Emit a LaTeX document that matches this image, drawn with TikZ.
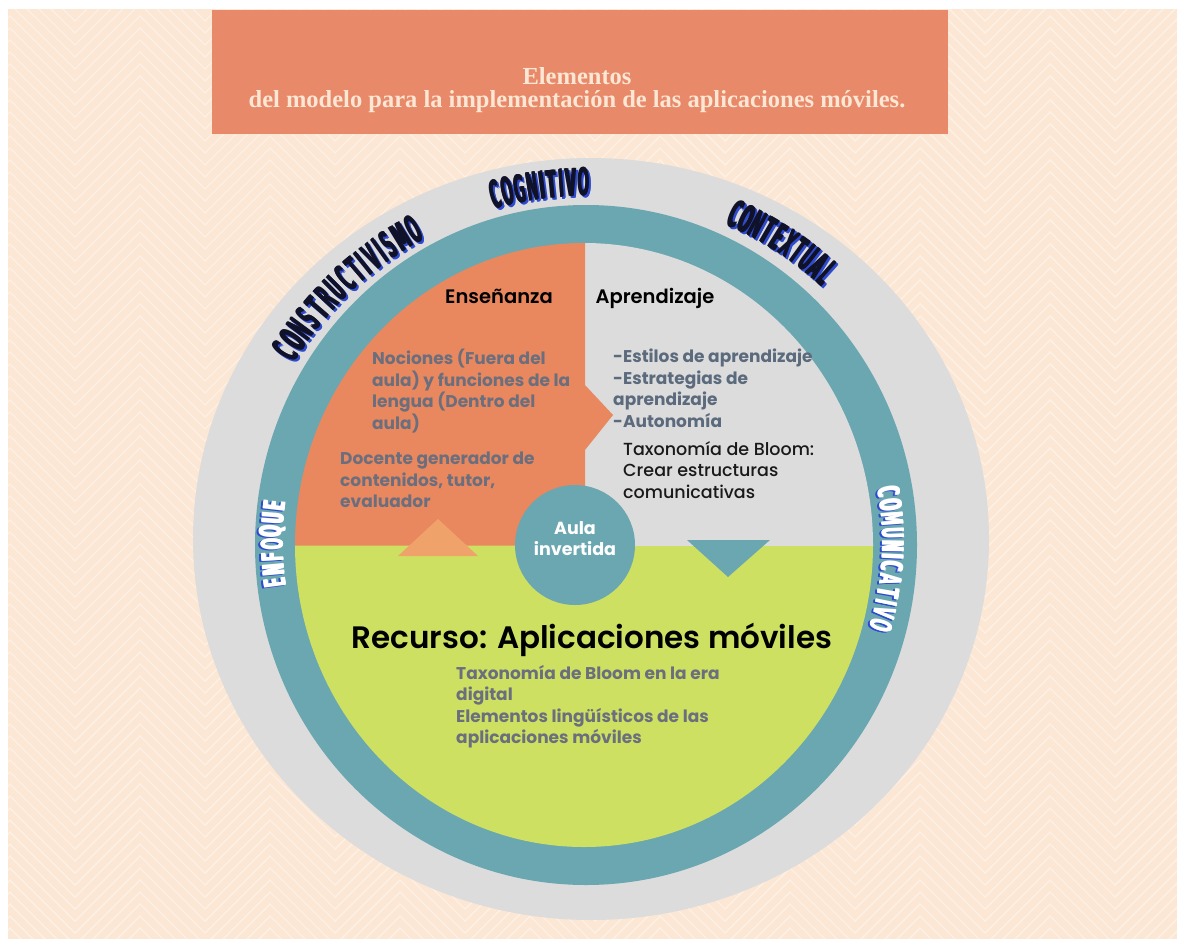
\documentclass[tikz,border=0pt]{standalone}
\usepackage{fontspec}
\usepackage{graphicx}
\setmainfont{Liberation Serif}
\newfontfamily\popf{Poppins}
\newfontfamily\popsb{Poppins SemiBold}
\newfontfamily\popmd{Poppins Medium}
\newfontfamily\djf{DejaVu Sans}
\definecolor{peach}{HTML}{FCE7D4}
\definecolor{titlebg}{HTML}{E8896A}
\definecolor{titlefg}{HTML}{FCE6D4}
\definecolor{ringgray}{HTML}{DCDCDC}
\definecolor{ringteal}{HTML}{6AA7B1}
\definecolor{orangeq}{HTML}{E9875F}
\definecolor{lightor}{HTML}{EFA36B}
\definecolor{greenq}{HTML}{CDE062}
\definecolor{grtext}{HTML}{6B6F7D}
\definecolor{sltext}{HTML}{5B6A7C}
\definecolor{navy}{HTML}{10122A}
\definecolor{shblue}{HTML}{2E4BD0}
\tikzset{
  gtxt/.style={font=\popf\bfseries\fontsize{17}{21.5}\selectfont, text=grtext, align=left, inner sep=0pt},
  stxt/.style={font=\popf\bfseries\fontsize{17}{21.5}\selectfont, text=sltext, align=left, inner sep=0pt},
  btxt/.style={font=\popmd\fontsize{17.5}{21.5}\selectfont, text=black!90, align=left, inner sep=0pt},
  blbl/.style={font=\djf\bfseries\fontsize{38}{38}\selectfont, inner sep=0pt, anchor=center},
  wlbl/.style={font=\djf\bfseries\fontsize{30}{30}\selectfont, inner sep=0pt, anchor=center},
}
% #1 prefix, #2 letter/weight list, #3 centre angle, #4 radius, #5 unit, #6 total weight
\newcommand\wordarc[6]{%
  \pgfmathsetmacro\astart{#3+(#6*#5/2)/#4*57.2958}%
  \xdef\sacc{0}%
  \foreach \c/\w [count=\i] in {#2}{
    \pgfmathsetmacro\a{\astart-(\sacc+\w*#5/2)/#4*57.2958}
    \pgfmathsetmacro\px{588+#4*cos(\a)}
    \pgfmathsetmacro\py{542-#4*sin(\a)}
    \foreach \o [count=\j] in {-0.8,0,0.8}{
      \node[curlbl, text=\shcol, rotate=\a-90] (#1s\i-\j) at ({\px+\shdx+\o*cos(\a-90)},{\py+\shdy-\o*sin(\a-90)}) {\scalebox{\lsx}[1]{\c}};
    }
    \foreach \o [count=\j] in {-0.8,0,0.8}{
      \node[curlbl, text=\fgcol, rotate=\a-90] (#1\i-\j) at ({\px+\o*cos(\a-90)},{\py-\o*sin(\a-90)}) {\scalebox{\lsx}[1]{\c}};
    }
    \pgfmathsetmacro\snew{\sacc+\w*#5}
    \xdef\sacc{\snew}
  }%
}
\begin{document}
\begin{tikzpicture}[x=1pt,y=-1pt]
\useasboundingbox (0,0) rectangle (1177,939);
\fill[white] (0,0) rectangle (1177,939);
\fill[peach] (8,9) rectangle (1177,939);
\begin{scope}
\clip (8,9) rectangle (1177,939);
\foreach \y in {-80,-68,...,940}{
  \draw[white, opacity=0.4, line width=1.4pt] (-120,\y) \foreach \k in {1,...,11}{ -- ++(65,65) -- ++(65,-65) };
}
\end{scope}
% title
\fill[titlebg] (212,10) rectangle (948,134);
\node[font=\bfseries\fontsize{24.5}{23}\selectfont, text=titlefg, align=center] (title) at (577,90) {Elementos\\del modelo para la implementación de las aplicaciones móviles.};
% rings
\fill[ringgray] (591,539) ellipse [x radius=398pt, y radius=381pt];
\fill[ringteal] (586,545) ellipse [x radius=331pt, y radius=340pt];
\begin{scope}
\clip (584,545) ellipse [x radius=289pt, y radius=302pt];
\fill[greenq] (280,545) rectangle (890,860);
\fill[ringgray] (585,230) rectangle (890,545.5);
\fill[orangeq] (280,230) -- (585,230) -- (585,385) -- (613,415) -- (585,450) -- (585,545.5) -- (280,545.5) -- cycle;
\end{scope}
\fill[lightor] (398,556) -- (478,556) -- (438,519) -- cycle;
\fill[ringteal] (687,540) -- (770,540) -- (728,577) -- cycle;
\node[circle, fill=ringteal, minimum size=120pt, inner sep=0pt] (aula) at (575,545) {};
\node[font=\popf\bfseries\fontsize{17.5}{21}\selectfont, text=white, align=center] (aulat) at (575,539) {Aula\\invertida};
% headings
\node[font=\popsb\fontsize{19.5}{24}\selectfont, anchor=base, inner sep=0pt] (ens) at (499,303) {Enseñanza};
\node[font=\popsb\fontsize{19.5}{24}\selectfont, anchor=base, inner sep=0pt] (apr) at (655,303) {Aprendizaje};
% texts
\node[gtxt, anchor=north west] (noc) at (372,349) {Nociones (Fuera del\\aula) y funciones de la\\lengua (Dentro del\\aula)};
\node[gtxt, anchor=north west] (doc) at (340,452) {Docente generador de\\contenidos, tutor,\\evaluador};
\node[stxt, anchor=north west] (est) at (613,349) {-Estilos de aprendizaje\\-Estrategias de\\aprendizaje\\-Autonomía};
\node[btxt, anchor=north west] (tax) at (623,441) {Taxonomía de Bloom:\\Crear estructuras\\comunicativas};
\node[font=\popsb\fontsize{31}{36}\selectfont, anchor=base, inner sep=0pt] (rec) at (592,648) {Recurso: Aplicaciones móviles};
\node[gtxt, anchor=north west] (dig) at (456,665) {Taxonomía de Bloom en la era\\digital\\Elementos lingüísticos de las\\aplicaciones móviles};
% curved labels
\tikzset{curlbl/.style={blbl}}
\def\shcol{shblue}\def\fgcol{navy}\def\shdx{2}\def\shdy{2}\def\lsx{0.36}
\wordarc{cog}{C/1,O/1,G/1,N/1,I/0.55,T/1,I/0.55,V/1,O/1}{97.8}{360}{12.6}{8.1}
\wordarc{cons}{C/1,O/1,N/1,S/1,T/1,R/1,U/1,C/1,T/1,I/0.55,V/1,I/0.55,S/1,M/1.15,O/1}{133.5}{358}{13.5}{14.25}
\wordarc{ctx}{C/1,O/1,N/1,T/1,E/1,X/1,T/1,U/1,A/1,L/1}{57}{360}{12.2}{10}
\tikzset{curlbl/.style={wlbl}}
\def\shcol{shblue}\def\fgcol{white}\def\shdx{-2}\def\shdy{1}\def\lsx{0.45}
\wordarc{enf}{E/1,N/1,F/1,O/1,Q/1,U/1,E/1}{180.4}{316}{12.9}{7}
\wordarc{com}{C/1,O/1,M/1.15,U/1,N/1,I/0.55,C/1,A/1,T/1,I/0.55,V/1,O/1}{-3.2}{305}{13.2}{11.25}
\end{tikzpicture}
\end{document}
